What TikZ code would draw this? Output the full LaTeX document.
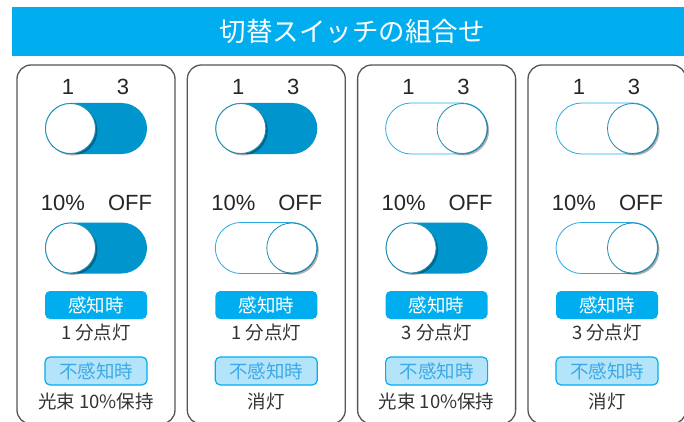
\documentclass[tikz,border=0pt]{standalone}
\usepackage{fontspec}
\setmainfont{Liberation Sans}
\newfontfamily\jpfont{Noto Sans CJK JP}
\definecolor{barblue}{RGB}{0,174,239}
\definecolor{swblue}{RGB}{0,150,205}
\definecolor{rimblue}{RGB}{41,171,226}
\definecolor{knobrim}{RGB}{30,140,175}
\definecolor{paleblue}{RGB}{180,228,250}
\definecolor{idletext}{RGB}{60,170,230}
\definecolor{framegray}{RGB}{85,85,85}
\tikzset{
  panel/.style={draw=framegray, line width=1.3pt, rounded corners=14pt},
  num/.style={font=\fontsize{22}{22}\selectfont, text=black!85, inner sep=0pt},
  note/.style={font=\jpfont\fontsize{18.5}{19}\selectfont, text=black!80, inner sep=0pt},
  sensbtn/.style={fill=barblue, rounded corners=5pt, minimum width=102pt, minimum height=28pt,
    inner sep=0pt, text=white, font=\jpfont\fontsize{18.5}{19}\selectfont},
  idlebtn/.style={sensbtn, fill=paleblue, draw=barblue, line width=1.2pt, text=idletext},
  knob/.style={draw=knobrim, line width=0.8pt, fill=white},
  swon/.pic={
    \fill[swblue, rounded corners=25.5pt] (-51pt,-25.5pt) rectangle (51pt,25.5pt);
    \fill[black, opacity=.3] (-23.5pt,-2pt) circle (25pt);
    \draw[knob] (-25.5pt,0pt) circle (25pt);
  },
  swoff/.pic={
    \draw[rimblue, line width=0.8pt, fill=white, rounded corners=25.5pt] (-51pt,-25.5pt) rectangle (51pt,25.5pt);
    \fill[black, opacity=.3] (27.5pt,-2pt) circle (25pt);
    \draw[knob] (25.5pt,0pt) circle (25pt);
  }
}
\begin{document}
\begin{tikzpicture}[x=1pt, y=-1pt]
  \useasboundingbox (0,0) rectangle (684,422);
  \fill[barblue] (12,7) rectangle (684,56);
  \node[font=\jpfont\fontsize{26.5}{27}\selectfont, text=white] (ttl) at (352,31) {切替スイッチの組合せ};
  % 1 min / 10%
  \begin{scope}[xshift=96pt]
    \draw[panel] (-79,65) rectangle (79,424);
    \node[num] (a1) at (-28,87) {1}; \node[num] (a3) at (27,87) {3};
    \pic at (0,128.5) {swon};
    \node[num] (a10) at (-33,203) {10\%}; \node[num] (aoff) at (34,203) {OFF};
    \pic at (0,248) {swon};
    \node[sensbtn] (asens) at (0,305) {感知時};
    \node[note] (anote) at (0,333) {1 分点灯};
    \node[idlebtn] (aidle) at (0,371) {不感知時};
    \node[note] (aout) at (0,401) {光束 10\%保持};
  \end{scope}
  % 1 min / off
  \begin{scope}[xshift=266.3pt]
    \draw[panel] (-79,65) rectangle (79,424);
    \node[num] (b1) at (-28,87) {1}; \node[num] (b3) at (27,87) {3};
    \pic at (0,128.5) {swon};
    \node[num] (b10) at (-33,203) {10\%}; \node[num] (boff) at (34,203) {OFF};
    \pic at (0,248) {swoff};
    \node[sensbtn] (bsens) at (0,305) {感知時};
    \node[note] (bnote) at (0,333) {1 分点灯};
    \node[idlebtn] (bidle) at (0,371) {不感知時};
    \node[note] (bout) at (0,401) {消灯};
  \end{scope}
  % 3 min / 10%
  \begin{scope}[xshift=436.6pt]
    \draw[panel] (-79,65) rectangle (79,424);
    \node[num] (c1) at (-28,87) {1}; \node[num] (c3) at (27,87) {3};
    \pic at (0,128.5) {swoff};
    \node[num] (c10) at (-33,203) {10\%}; \node[num] (coff) at (34,203) {OFF};
    \pic at (0,248) {swon};
    \node[sensbtn] (csens) at (0,305) {感知時};
    \node[note] (cnote) at (0,333) {3 分点灯};
    \node[idlebtn] (cidle) at (0,371) {不感知時};
    \node[note] (cout) at (0,401) {光束 10\%保持};
  \end{scope}
  % 3 min / off
  \begin{scope}[xshift=607pt]
    \draw[panel] (-79,65) rectangle (79,424);
    \node[num] (d1) at (-28,87) {1}; \node[num] (d3) at (27,87) {3};
    \pic at (0,128.5) {swoff};
    \node[num] (d10) at (-33,203) {10\%}; \node[num] (doff) at (34,203) {OFF};
    \pic at (0,248) {swoff};
    \node[sensbtn] (dsens) at (0,305) {感知時};
    \node[note] (dnote) at (0,333) {3 分点灯};
    \node[idlebtn] (didle) at (0,371) {不感知時};
    \node[note] (dout) at (0,401) {消灯};
  \end{scope}
\end{tikzpicture}
\end{document}
